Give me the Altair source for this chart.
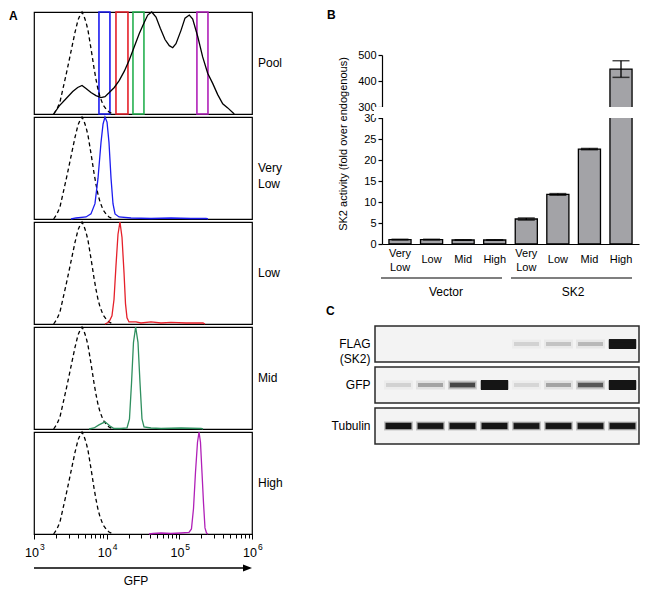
import math
import altair as alt
import pandas as pd

FONT = "Liberation Sans"

# ---------------- Panel A : flow histograms (x = log10 GFP, y = relative count) ----------------
ctrl_L = [3.271, 3.317, 3.358, 3.399, 3.440, 3.482, 3.523, 3.564, 3.605, 3.640, 3.661, 3.688,
          3.716, 3.743, 3.771, 3.798, 3.826, 3.853, 3.881, 3.908, 3.950, 3.991, 4.032, 4.087]
ctrl_h = [0.0, 0.05, 0.12, 0.25, 0.38, 0.52, 0.66, 0.80, 0.92, 0.98, 1.0, 0.96,
          0.90, 0.82, 0.70, 0.58, 0.45, 0.34, 0.24, 0.17, 0.09, 0.05, 0.02, 0.0]

pool_L = [3.271, 3.348, 3.440, 3.533, 3.601, 3.661, 3.716, 3.784, 3.853, 3.922, 3.977, 4.036,
          4.105, 4.174, 4.243, 4.311, 4.380, 4.449, 4.518, 4.565, 4.620, 4.679, 4.738, 4.803,
          4.862, 4.909, 4.954, 5.023, 5.078, 5.137, 5.184, 5.253, 5.321, 5.390, 5.459, 5.528,
          5.597, 5.666, 5.756]
pool_h = [0.0, 0.08, 0.15, 0.22, 0.26, 0.28, 0.25, 0.21, 0.18, 0.16, 0.17, 0.21,
          0.26, 0.33, 0.42, 0.53, 0.66, 0.79, 0.90, 0.97, 1.0, 0.95, 0.84, 0.73,
          0.67, 0.65, 0.69, 0.82, 0.94, 0.97, 0.93, 0.76, 0.56, 0.40, 0.30, 0.19,
          0.10, 0.06, 0.0]

vlow_L = [3.509, 3.578, 3.716, 3.784, 3.839, 3.881, 3.922, 3.950, 3.977, 4.005, 4.032, 4.060,
          4.087, 4.115, 4.170, 4.335, 4.610, 4.885, 5.160, 5.367, 5.394]
vlow_h = [0.0, 0.01, 0.02, 0.05, 0.15, 0.40, 0.75, 0.93, 1.0, 0.95, 0.75, 0.40,
          0.15, 0.05, 0.02, 0.01, 0.005, 0.01, 0.005, 0.005, 0.0]

low_L = [3.977, 4.032, 4.073, 4.101, 4.128, 4.156, 4.183, 4.211, 4.239, 4.259, 4.280, 4.307,
         4.404, 4.472, 4.610, 4.748, 4.885, 5.092, 5.326, 5.353]
low_h = [0.0, 0.02, 0.08, 0.24, 0.57, 0.88, 1.0, 0.85, 0.50, 0.20, 0.06, 0.02,
         0.02, 0.01, 0.02, 0.01, 0.015, 0.01, 0.01, 0.0]

mid_L = [3.757, 3.826, 3.894, 3.977, 4.046, 4.101, 4.197, 4.280, 4.314, 4.342, 4.369, 4.399,
         4.431, 4.459, 4.486, 4.514, 4.610, 4.748, 5.023, 5.298, 5.326]
mid_h = [0.0, 0.01, 0.04, 0.07, 0.03, 0.005, 0.005, 0.01, 0.10, 0.45, 0.85, 1.0,
         0.85, 0.45, 0.10, 0.02, 0.01, 0.005, 0.01, 0.005, 0.0]

high_L = [4.583, 4.638, 4.748, 4.885, 5.023, 5.133, 5.167, 5.195, 5.222, 5.250, 5.271, 5.291,
          5.312, 5.333, 5.353, 5.374, 5.394]
high_h = [0.0, 0.005, 0.01, 0.005, 0.01, 0.015, 0.05, 0.25, 0.60, 0.90, 1.0, 0.90,
          0.60, 0.30, 0.06, 0.01, 0.0]

panel_names = ["Pool", "Very Low", "Low", "Mid", "High"]
panel_L = [pool_L, vlow_L, low_L, mid_L, high_L]
panel_h = [pool_h, vlow_h, low_h, mid_h, high_h]
panel_colors = ["black", "#1c1cf0", "#e5202a", "#2f8f5f", "#b020b8"]

gate_names = ["Very Low", "Low", "Mid", "High"]
gate_lo = [3.894, 4.128, 4.362, 5.242]
gate_hi = [4.045, 4.293, 4.513, 5.394]
gate_colors = ["#1c1cf0", "#e5202a", "#26b050", "#b020b8"]

major_ticks = [3, 4, 5, 6]
major_exp = ["3", "4", "5", "6"]

# ---------------- Panel B : SK2 activity ----------------
b_groups = ["Vector", "SK2"]
b_levels = ["Very Low", "Low", "Mid", "High"]
vector_mean = [1.05, 1.05, 0.95, 0.95]
vector_err = [0.08, 0.08, 0.05, 0.05]
sk2_mean = [5.95, 11.8, 22.6, 446]
sk2_err = [0.25, 0.2, 0.15, 32]
b_ticks = [0, 5, 10, 15, 20, 25, 30, 300, 400, 500]

# ---------------- Panel C : western blot ----------------
c_rows = ["FLAG (SK2)", "GFP", "Tubulin"]
c_lanes = [1, 2, 3, 4, 5, 6, 7, 8]
flag_int = [0.0, 0.0, 0.0, 0.0, 0.12, 0.18, 0.22, 1.0]
gfp_int = [0.12, 0.30, 0.60, 1.0, 0.10, 0.30, 0.55, 1.0]
tub_int = [0.90, 0.86, 0.88, 0.90, 0.86, 0.88, 0.86, 0.88]

# ======================================================================
W_A, H_A = 218, 102
one = alt.Data(values=[{}])
xA_scale = alt.Scale(domain=[3, 6], nice=False, zero=False)
yA_scale = alt.Scale(domain=[0, 1], nice=False, zero=True)

minor_ticks = [n + math.log10(k) for n in (3, 4, 5) for k in range(2, 10)]
bottom_axis = alt.Axis(
    values=major_ticks + minor_ticks, labels=False, ticks=True,
    tickSize={"condition": {"test": "datum.value % 1 == 0", "value": 5}, "value": 4},
    tickColor="black", tickWidth=1, domain=True, domainColor="black", domainWidth=1.2,
    grid=False, title=None)


def a_panel(i):
    last = i == 4
    xaxis = bottom_axis if last else None
    X = alt.X("L:Q", scale=xA_scale, axis=xaxis)
    Y = alt.Y("h:Q", scale=yA_scale, axis=None)
    layers = []
    if i == 0:
        gates = pd.DataFrame({"g": gate_names, "lo": gate_lo, "hi": gate_hi})
        layers.append(
            alt.Chart(gates).mark_rect(filled=False, strokeWidth=1.6).encode(
                x=alt.X("lo:Q", scale=xA_scale, axis=xaxis), x2="hi:Q",
                y=alt.value(0), y2=alt.value(H_A),
                stroke=alt.Stroke("g:N", scale=alt.Scale(domain=gate_names, range=gate_colors), legend=None)))
    ctrl = pd.DataFrame({"L": ctrl_L, "h": ctrl_h})
    layers.append(alt.Chart(ctrl).mark_line(color="black", strokeDash=[4, 3], strokeWidth=1.3).encode(x=X, y=Y))
    samp = pd.DataFrame({"L": panel_L[i], "h": panel_h[i]})
    layers.append(alt.Chart(samp).mark_line(color=panel_colors[i], strokeWidth=1.3).encode(x=X, y=Y))
    layers.append(alt.Chart(one).mark_text(align="left", baseline="middle", fontSize=12, lineBreak=" ",
                                           lineHeight=16, font=FONT, color="black").encode(
        x=alt.value(W_A + 6), y=alt.value(H_A / 2), text=alt.value(panel_names[i])))
    if i == 0:
        layers.append(alt.Chart(one).mark_text(align="left", baseline="middle", fontSize=12,
                                               fontWeight="bold", font=FONT, color="black").encode(
            x=alt.value(-25), y=alt.value(4), text=alt.value("A")))
    if last:
        ticks_df = pd.DataFrame({"L": major_ticks, "e": major_exp})
        layers.append(alt.Chart(ticks_df).mark_text(align="right", baseline="middle", fontSize=12.5,
                                                    font=FONT, color="black", dx=5).encode(
            x=X, y=alt.value(H_A + 19), text=alt.value("10")))
        layers.append(alt.Chart(ticks_df).mark_text(align="left", baseline="middle", fontSize=8.5,
                                                    font=FONT, color="black", dx=6).encode(
            x=X, y=alt.value(H_A + 13), text="e:N"))
        layers.append(alt.Chart(one).mark_rule(color="black", strokeWidth=1.3).encode(
            x=alt.value(0), x2=alt.value(W_A - 6), y=alt.value(H_A + 34)))
        layers.append(alt.Chart(one).mark_point(shape="M-1,-0.8L1,0L-1,0.8Z", filled=True, color="black",
                                                opacity=1, size=81).encode(
            x=alt.value(W_A - 4.5), y=alt.value(H_A + 34)))
        layers.append(alt.Chart(one).mark_text(align="center", baseline="middle", fontSize=12,
                                               font=FONT, color="black").encode(
            x=alt.value(102), y=alt.value(H_A + 47), text=alt.value("GFP")))
    return alt.layer(*layers).properties(
        width=W_A, height=H_A, view=alt.ViewBackground(stroke="black", strokeWidth=1.2))


colA = alt.vconcat(*[a_panel(i) for i in range(5)], spacing=3, bounds="flush")

# ======================================================================
# B occupies y 43..232 of its own view so that its plot top sits 43 px below panel A's top
W_B, H_B = 257, 232
ids, means, errs = [], [], []
for g, m_list, e_list in [("Vector", vector_mean, vector_err), ("SK2", sk2_mean, sk2_err)]:
    for lvl, m, e in zip(b_levels, m_list, e_list):
        ids.append(g + "|" + lvl)
        means.append(m)
        errs.append(e)
bdf = pd.DataFrame({"id": ids, "mean": means, "lo": [m - e for m, e in zip(means, errs)],
                    "hi": [m + e for m, e in zip(means, errs)]})

xB = alt.X("id:N", sort=ids, scale=alt.Scale(paddingInner=0.3, paddingOuter=0.22),
           axis=alt.Axis(labelExpr="split(split(datum.value, '|')[1], ' ')", labelAngle=0, ticks=False,
                         tickSize=0,
                         labelPadding={"condition": {"test": "indexof(datum.value, 'Very') >= 0", "value": 9},
                                       "value": 15},
                         labelBaseline="middle", labelLineHeight=14,
                         labelFontSize=11, labelColor="black", labelFont=FONT, labelOverlap=False,
                         domainColor="black", domainWidth=1.2, title=None))
yB_scale = alt.Scale(domain=[0, 30, 300, 500], range=[H_B, H_B - 126, H_B - 137, H_B - 189],
                     nice=False, zero=False)
yB_axis = alt.Axis(values=b_ticks, tickSize=4, tickColor="black", tickWidth=1.2, domainColor="black",
                   domainWidth=1.2, labelFontSize=11, labelColor="black", labelFont=FONT, labelPadding=2,
                   labelOverlap=False, labelBound=False, grid=False, title=None)

bars = alt.Chart(bdf).mark_bar(color="#a3a3a7", stroke="black", strokeWidth=1.3).encode(
    x=xB, y=alt.Y("mean:Q", scale=yB_scale, axis=yB_axis))
err_rule = alt.Chart(bdf).mark_rule(color="black", strokeWidth=1.3).encode(
    x=xB, y=alt.Y("lo:Q", scale=yB_scale, axis=yB_axis), y2="hi:Q")
cap_lo = alt.Chart(bdf).mark_tick(orient="horizontal", color="black", thickness=1.5).encode(
    x=xB, y=alt.Y("lo:Q", scale=yB_scale, axis=yB_axis), size=alt.value(17))
cap_hi = alt.Chart(bdf).mark_tick(orient="horizontal", color="black", thickness=1.5).encode(
    x=xB, y=alt.Y("hi:Q", scale=yB_scale, axis=yB_axis), size=alt.value(17))
gap = alt.Chart(one).mark_rect(color="white").encode(
    x=alt.value(-8), x2=alt.value(W_B + 2), y=alt.YDatum(31, scale=yB_scale, axis=yB_axis), y2=alt.Y2Datum(299))
b_title = alt.Chart(one).mark_text(angle=270, fontSize=11, font=FONT, color="black", baseline="middle").encode(
    x=alt.value(-38), y=alt.value(132), text=alt.value("SK2 activity (fold over endogenous)"))
grp_lines = [
    alt.Chart(one).mark_rule(color="black", strokeWidth=1.2).encode(
        x=alt.value(-1), x2=alt.value(120), y=alt.value(H_B + 34)),
    alt.Chart(one).mark_rule(color="black", strokeWidth=1.2).encode(
        x=alt.value(129), x2=alt.value(250), y=alt.value(H_B + 34)),
]
grp_text = [
    alt.Chart(one).mark_text(fontSize=12, font=FONT, color="black", baseline="middle").encode(
        x=alt.value(64), y=alt.value(H_B + 48), text=alt.value(b_groups[0])),
    alt.Chart(one).mark_text(fontSize=12, font=FONT, color="black", baseline="middle").encode(
        x=alt.value(191), y=alt.value(H_B + 48), text=alt.value(b_groups[1])),
]
b_letter = alt.Chart(one).mark_text(align="left", baseline="middle", fontSize=12, fontWeight="bold",
                                    font=FONT, color="black").encode(
    x=alt.value(-55), y=alt.value(3), text=alt.value("B"))

chartB = alt.layer(bars, err_rule, cap_lo, cap_hi, gap, b_title, *grp_lines, *grp_text, b_letter
                   ).properties(width=W_B, height=H_B)

# ======================================================================
W_C, H_C = 257, 118
cdf = pd.DataFrame({
    "row": [r for r in c_rows for _ in c_lanes],
    "lane": c_lanes * 3,
    "inten": flag_int + gfp_int + tub_int,
})
rows_df = pd.DataFrame({"row": c_rows})
yC = alt.Y("row:N", sort=c_rows, scale=alt.Scale(paddingInner=0.12, paddingOuter=0),
           axis=alt.Axis(labelExpr="split(datum.value, ' ')", domain=False, ticks=False, labelPadding=12,
                         labelFontSize=12, labelColor="black", labelFont=FONT, labelLineHeight=15,
                         labelBaseline="middle", title=None))
xC = alt.X("lane:O", scale=alt.Scale(paddingInner=0.22, paddingOuter=0.125), axis=None)

frames = alt.Chart(rows_df).mark_rect(fill="#f3f3f3", stroke="#2a2a2a", strokeWidth=1.5).encode(
    y=yC, x=alt.value(-7), x2=alt.value(W_C))
band_glow = alt.Chart(cdf).mark_tick(orient="horizontal", thickness=9, color="#151515").encode(
    x=xC, y=yC, size=alt.value(29),
    opacity=alt.Opacity("inten:Q", scale=alt.Scale(domain=[0, 1], range=[0, 0.25]), legend=None))
band_core = alt.Chart(cdf).mark_tick(orient="horizontal", thickness=4, color="#151515").encode(
    x=xC, y=yC, size=alt.value(25),
    opacity=alt.Opacity("inten:Q", scale=alt.Scale(domain=[0, 1], range=[0, 1]), legend=None))
band_mid = alt.Chart(cdf).mark_tick(orient="horizontal", thickness=6.5, color="#151515").encode(
    x=xC, y=yC, size=alt.value(26),
    opacity=alt.Opacity("inten:Q", scale=alt.Scale(domain=[0.45, 0.9], range=[0, 1], clamp=True), legend=None))
band_thick = alt.Chart(cdf).mark_tick(orient="horizontal", thickness=10, color="#151515").encode(
    x=xC, y=yC, size=alt.value(27),
    opacity=alt.Opacity("inten:Q", scale=alt.Scale(domain=[0.9, 1], range=[0, 1], clamp=True), legend=None))
c_letter = alt.Chart(one).mark_text(align="left", baseline="middle", fontSize=12, fontWeight="bold",
                                    font=FONT, color="black").encode(
    x=alt.value(-56), y=alt.value(-15), text=alt.value("C"))

chartC = alt.layer(frames, band_glow, band_mid, band_thick, band_core, c_letter).resolve_scale(
    opacity="independent").properties(width=W_C, height=H_C)

colB = alt.vconcat(chartB, chartC, spacing=82, bounds="flush")

chart = alt.hconcat(colA, colB, spacing=42).properties(padding=0).configure(font=FONT).configure_view(
    stroke=None).configure_axis(labelOverlap=False)

chart.save("out.html", embed_options={"renderer": "svg", "actions": False})
